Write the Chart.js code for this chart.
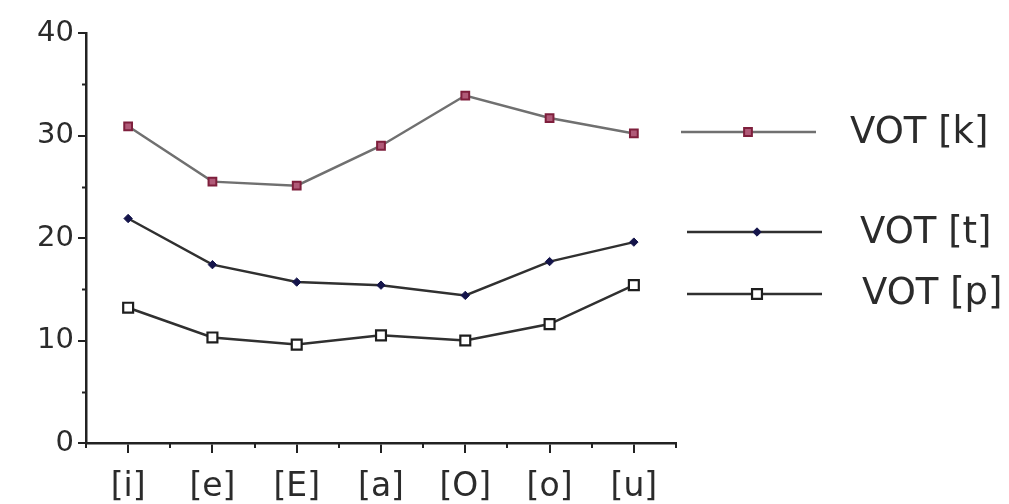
<!DOCTYPE html>
<html>
<head>
<meta charset="utf-8">
<script src="https://cdn.jsdelivr.net/npm/chart.js@4.4.1/dist/chart.umd.min.js"></script>
<style>
html,body{margin:0;padding:0;background:#fff;}
#wrap{width:1009px;height:504px;}
</style>
</head>
<body>
<div id="wrap"><canvas id="c" width="1009" height="504"></canvas></div>
<script>
const categories = ['[i]', '[e]', '[E]', '[a]', '[O]', '[o]', '[u]'];
const seriesLabels = ['VOT [k]', 'VOT [t]', 'VOT [p]'];
const kValues = [30.9, 25.5, 25.1, 29.0, 33.9, 31.7, 30.2];
const tValues = [21.9, 17.4, 15.7, 15.4, 14.4, 17.7, 19.6];
const pValues = [13.2, 10.3, 9.6, 10.5, 10.0, 11.6, 15.4];
const yMin = 0, yMax = 40, yMajorStep = 10, yMinorStep = 5;

const FONT = "'DejaVu Sans', sans-serif";
const AXIS = '#222222';

const legendLayout = [
  {x1: 681, x2: 816, y: 132, mx: 748, tx: 850, ty: 133},
  {x1: 687, x2: 822, y: 232, mx: 757, tx: 860, ty: 233},
  {x1: 687, x2: 822, y: 294, mx: 757, tx: 862, ty: 294}
];

const minorTicks = {
  id: 'minorTicks',
  afterDraw(chart) {
    const ctx = chart.ctx;
    const xs = chart.scales.x, ys = chart.scales.y;
    ctx.save();
    ctx.strokeStyle = AXIS;
    ctx.lineWidth = 2;
    for (let v = yMin + yMinorStep; v < yMax; v += yMajorStep) {
      const py = Math.round(ys.getPixelForValue(v)) + 0.5;
      ctx.beginPath();
      ctx.moveTo(xs.left - 4, py);
      ctx.lineTo(xs.left, py);
      ctx.stroke();
    }
    for (let i = 0; i <= categories.length; i++) {
      const px = Math.round(xs.getPixelForValue(i - 0.5));
      ctx.beginPath();
      ctx.moveTo(px, ys.bottom);
      ctx.lineTo(px, ys.bottom + 5);
      ctx.stroke();
    }
    ctx.restore();
  }
};

const customLegend = {
  id: 'customLegend',
  afterDraw(chart) {
    const ctx = chart.ctx;
    chart.data.datasets.forEach((ds, i) => {
      const L = legendLayout[i];
      ctx.save();
      ctx.strokeStyle = ds.borderColor;
      ctx.lineWidth = ds.borderWidth;
      ctx.beginPath();
      ctx.moveTo(L.x1, L.y);
      ctx.lineTo(L.x2, L.y);
      ctx.stroke();
      ctx.fillStyle = ds.pointBackgroundColor;
      ctx.strokeStyle = ds.pointBorderColor;
      ctx.lineWidth = ds.pointBorderWidth;
      Chart.helpers.drawPoint(ctx, {
        pointStyle: ds.pointStyle,
        radius: ds.pointRadius,
        borderWidth: ds.pointBorderWidth,
        rotation: 0
      }, L.mx, L.y);
      ctx.fillStyle = '#2b2b2b';
      ctx.font = "37px " + FONT;
      ctx.textBaseline = 'middle';
      ctx.textAlign = 'left';
      ctx.fillText(ds.label, L.tx, L.ty);
      ctx.restore();
    });
  }
};

new Chart(document.getElementById('c'), {
  type: 'line',
  data: {
    labels: categories,
    datasets: [
      {
        label: seriesLabels[0], data: kValues,
        borderColor: '#707070', borderWidth: 2.5, tension: 0,
        pointStyle: 'rect', pointRadius: 5.5, pointBorderWidth: 2,
        pointBackgroundColor: '#b05a78', pointBorderColor: '#7e1f3c'
      },
      {
        label: seriesLabels[1], data: tValues,
        borderColor: '#303030', borderWidth: 2.5, tension: 0,
        pointStyle: 'rectRot', pointRadius: 4.2, pointBorderWidth: 1,
        pointBackgroundColor: '#14144a', pointBorderColor: '#14144a'
      },
      {
        label: seriesLabels[2], data: pValues,
        borderColor: '#303030', borderWidth: 2.5, tension: 0,
        pointStyle: 'rect', pointRadius: 7, pointBorderWidth: 2.2,
        pointBackgroundColor: '#ffffff', pointBorderColor: '#1e1e1e'
      }
    ]
  },
  options: {
    responsive: false,
    animation: false,
    layout: {padding: {left: 0, right: 333, top: 33, bottom: 0}},
    plugins: {legend: {display: false}, tooltip: {enabled: false}},
    scales: {
      x: {
        type: 'category',
        offset: true,
        grid: {display: true, drawOnChartArea: false, drawTicks: true, tickLength: 10, color: AXIS, lineWidth: 2},
        border: {display: true, color: AXIS, width: 2.5},
        ticks: {color: '#2b2b2b', font: {family: FONT, size: 33}, padding: 15, maxRotation: 0, autoSkip: false},
        afterFit(scale) { scale.height = 61; }
      },
      y: {
        min: yMin, max: yMax,
        grid: {display: true, drawOnChartArea: false, drawTicks: true, tickLength: 8, color: AXIS, lineWidth: 2},
        border: {display: true, color: AXIS, width: 2.5},
        ticks: {stepSize: yMajorStep, color: '#2b2b2b', font: {family: FONT, size: 29}, padding: 4},
        afterFit(scale) { scale.width = 86; }
      }
    }
  },
  plugins: [minorTicks, customLegend]
});
</script>
</body>
</html>
